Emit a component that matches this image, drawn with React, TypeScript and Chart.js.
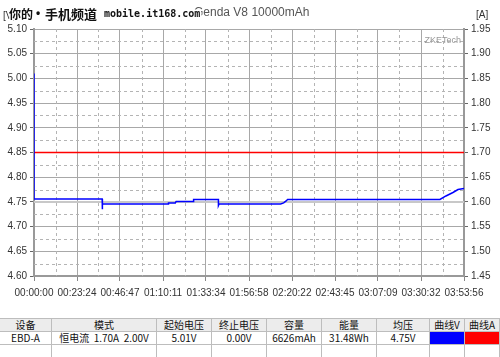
import React, { useEffect, useRef } from "react";
import { Chart, registerables } from "chart.js";

Chart.register(...registerables);

// ---- data ----
const totalSeconds = 14036;
const xTickValues = [0, 1403.6, 2807.2, 4210.8, 5614.4, 7018, 8421.6, 9825.2, 11228.8, 12632.4, 14036];
const xTickLabels = ["00:00:00", "00:23:24", "00:46:47", "01:10:11", "01:33:34", "01:56:58", "02:20:22", "02:43:45", "03:07:09", "03:30:32", "03:53:56"];
const yTickValues = [4.6, 4.65, 4.7, 4.75, 4.8, 4.85, 4.9, 4.95, 5.0, 5.05, 5.1];
const yTickLabels = ["4.60", "4.65", "4.70", "4.75", "4.80", "4.85", "4.90", "4.95", "5.00", "5.05", "5.10"];
const y1TickValues = [1.45, 1.5, 1.55, 1.6, 1.65, 1.7, 1.75, 1.8, 1.85, 1.9, 1.95];
const y1TickLabels = ["1.45", "1.50", "1.55", "1.60", "1.65", "1.70", "1.75", "1.80", "1.85", "1.90", "1.95"];

const voltageTime = [0, 0, 2225, 2225, 2240, 4384, 4390, 4613, 4640, 5202, 5210, 6020, 6020, 6040, 8049, 8150, 8230, 8278, 13251, 13447, 13676, 13840, 14036];
const voltageValues = [5.01, 4.756, 4.756, 4.735, 4.746, 4.746, 4.748, 4.748, 4.751, 4.751, 4.755, 4.755, 4.743, 4.746, 4.746, 4.748, 4.752, 4.755, 4.755, 4.762, 4.769, 4.775, 4.777];
const currentTime = [0, 14036];
const currentValues = [1.7, 1.7];
const averageTime = [0, 14036];
const averageValues = [4.75, 4.75];

const tableHeaders = ["设备", "模式", "起始电压", "终止电压", "容量", "能量", "均压", "曲线V", "曲线A"];
const tableRow = ["EBD-A", "恒电流  1.70A  2.00V", "5.01V", "0.00V", "6626mAh", "31.48Wh", "4.75V", "", ""];
const columnWidths = [52, 105, 55, 55, 55, 55, 53, 35, 35];

const FONT = "'Liberation Sans', Arial, sans-serif";

const decorPlugin = {
  id: "decor",
  beforeDatasetsDraw(chart: any) {
    const { ctx, chartArea, scales } = chart;
    ctx.save();
    ctx.strokeStyle = "#b4b4b4";
    ctx.lineWidth = 1;
    ctx.setLineDash([3, 3]);
    for (let i = 0; i < yTickValues.length - 1; i++) {
      const v = (yTickValues[i] + yTickValues[i + 1]) / 2;
      const y = Math.round(scales.y.getPixelForValue(v)) + 0.5;
      ctx.beginPath();
      ctx.moveTo(chartArea.left, y);
      ctx.lineTo(chartArea.right, y);
      ctx.stroke();
    }
    for (let i = 0; i < xTickValues.length - 1; i++) {
      const v = (xTickValues[i] + xTickValues[i + 1]) / 2;
      const x = Math.round(scales.x.getPixelForValue(v)) + 0.5;
      ctx.beginPath();
      ctx.moveTo(x, chartArea.top);
      ctx.lineTo(x, chartArea.bottom);
      ctx.stroke();
    }
    ctx.restore();
  },
  afterDraw(chart: any) {
    const { ctx, chartArea } = chart;
    ctx.save();
    ctx.textBaseline = "middle";
    // title
    ctx.fillStyle = "#555";
    ctx.font = `12px ${FONT}`;
    ctx.textAlign = "left";
    ctx.fillText("Genda V8 10000mAh", 194, 13);
    ctx.font = `10px ${FONT}`;
    ctx.fillStyle = "#333";
    ctx.fillText("[V]", 3, 16);
    ctx.fillText("[A]", 476, 15);
    // watermark
    ctx.lineWidth = 3;
    ctx.strokeStyle = "#fff";
    ctx.lineJoin = "round";
    ctx.fillStyle = "#111";
    const put = (t: string, x: number, font: string) => {
      ctx.font = font;
      ctx.strokeText(t, x, 14);
      ctx.fillText(t, x, 14);
    };
    put("你的", 9, `bold 12px 'Noto Sans CJK SC', sans-serif`);
    put("•", 36, `bold 12px ${FONT}`);
    put("手机频道", 45, `bold 13px 'Noto Sans CJK SC', sans-serif`);
    put("mobile.it168.com", 104, `bold 10px 'DejaVu Sans Mono', monospace`);
    // ZKETech
    ctx.font = `9px ${FONT}`;
    ctx.fillStyle = "#999";
    ctx.textAlign = "right";
    ctx.fillText("ZKETech", chartArea.right - 3, chartArea.top + 12);
    ctx.restore();
  },
};

function DataTable() {
  const cell = (w: number, extra: React.CSSProperties = {}): React.CSSProperties => ({
    width: w,
    boxSizing: "border-box",
    borderRight: "1px solid #bdbdbd",
    textAlign: "center",
    overflow: "hidden",
    whiteSpace: "pre",
    ...extra,
  });
  const rowStyle: React.CSSProperties = { display: "flex", height: 12, lineHeight: "12px", borderBottom: "1px solid #bdbdbd" };
  return (
    <div style={{ position: "absolute", left: 0, top: 318, width: 500, fontFamily: "'Noto Sans CJK SC', sans-serif", fontSize: 10, color: "#111", borderTop: "1px solid #bdbdbd" }}>
      <div style={{ ...rowStyle, background: "#ececec" }}>
        {tableHeaders.map((h, i) => (
          <div key={i} style={cell(columnWidths[i])}>{h}</div>
        ))}
      </div>
      <div style={{ ...rowStyle, background: "#fff" }}>
        {tableRow.map((h, i) => (
          <div key={i} style={cell(columnWidths[i], i === 7 ? { background: "#0000ff" } : i === 8 ? { background: "#ff0000" } : {})}>{h}</div>
        ))}
      </div>
      <div style={{ ...rowStyle, height: 13, borderBottom: "none" }}>
        {tableRow.map((_, i) => (
          <div key={i} style={cell(columnWidths[i])}></div>
        ))}
      </div>
    </div>
  );
}

export default function App() {
  const ref = useRef<HTMLCanvasElement | null>(null);
  useEffect(() => {
    document.body.style.margin = "0";
    document.body.style.background = "#fff";
    const canvas = ref.current!;
    const tickFont = { family: FONT, size: 10 };
    const chart = new Chart(canvas, {
      type: "line",
      data: {
        datasets: [
          {
            label: "V",
            data: voltageTime.map((t, i) => ({ x: t, y: voltageValues[i] })),
            borderColor: "#0000ff",
            borderWidth: 1.5,
            pointRadius: 0,
            tension: 0,
            yAxisID: "y",
            order: 0,
          },
          {
            label: "A",
            data: currentTime.map((t, i) => ({ x: t, y: currentValues[i] })),
            borderColor: "#ff0000",
            borderWidth: 1.5,
            pointRadius: 0,
            yAxisID: "y1",
            order: 1,
          },
          {
            label: "avg",
            data: averageTime.map((t, i) => ({ x: t, y: averageValues[i] })),
            borderColor: "#c8c8c8",
            borderWidth: 2,
            pointRadius: 0,
            yAxisID: "y",
            order: 2,
          },
        ],
      },
      options: {
        animation: false,
        responsive: false,
        events: [],
        layout: { padding: { top: 29, left: 0, right: 0, bottom: 0 } },
        plugins: { legend: { display: false }, tooltip: { enabled: false }, title: { display: false } },
        scales: {
          x: {
            type: "linear",
            min: 0,
            max: totalSeconds,
            afterBuildTicks: (s: any) => { s.ticks = xTickValues.map((v) => ({ value: v })); },
            afterFit: (s: any) => { s.height = 42; },
            ticks: {
              autoSkip: false,
              maxRotation: 0,
              padding: 6,
              font: tickFont,
              color: "#333",
              callback: (_v: any, i: number) => xTickLabels[i],
            },
            grid: { color: "#a8a8a8", lineWidth: 1, drawTicks: true, tickLength: 5, tickColor: "#888" },
            border: { color: "#999", width: 2 },
          },
          y: {
            position: "left",
            min: 4.6,
            max: 5.1,
            afterBuildTicks: (s: any) => { s.ticks = yTickValues.map((v) => ({ value: v })); },
            afterFit: (s: any) => { s.width = 34; },
            ticks: {
              padding: 3,
              font: tickFont,
              color: "#333",
              callback: (_v: any, i: number) => yTickLabels[i],
            },
            grid: { color: "#a8a8a8", lineWidth: 1, drawTicks: true, tickLength: 4, tickColor: "#666" },
            border: { color: "#999", width: 2 },
          },
          y1: {
            position: "right",
            min: 1.45,
            max: 1.95,
            afterBuildTicks: (s: any) => { s.ticks = y1TickValues.map((v) => ({ value: v })); },
            afterFit: (s: any) => { s.width = 36; },
            ticks: {
              padding: 3,
              font: tickFont,
              color: "#333",
              callback: (_v: any, i: number) => y1TickLabels[i],
            },
            grid: { drawOnChartArea: false, drawTicks: true, tickLength: 4, tickColor: "#666" },
            border: { color: "#999", width: 2 },
          },
        },
      },
      plugins: [decorPlugin],
    } as any);
    return () => chart.destroy();
  }, []);
  return (
    <div style={{ position: "relative", width: 500, height: 357, background: "#fff", overflow: "hidden" }}>
      <canvas ref={ref} width={500} height={318} style={{ display: "block", width: 500, height: 318 }} />
      <DataTable />
    </div>
  );
}
